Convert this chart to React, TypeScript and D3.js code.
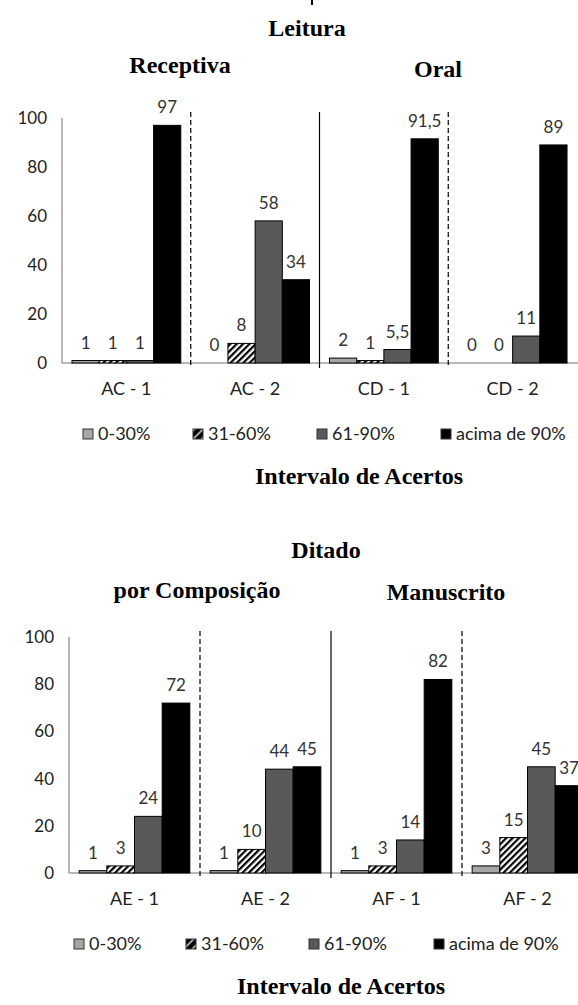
import React from 'react';
import * as d3 from 'd3';

// series (legend order)
const seriesNames = ['0-30%', '31-60%', '61-90%', 'acima de 90%'];
const yTicks = [0, 20, 40, 60, 80, 100];

// Leitura
const leituraCats = ['AC - 1', 'AC - 2', 'CD - 1', 'CD - 2'];
const leitura0a30 = [1, 0, 2, 0];
const leitura31a60 = [1, 8, 1, 0];
const leitura61a90 = [1, 58, 5.5, 11];
const leituraAcima90 = [97, 34, 91.5, 89];

// Ditado
const ditadoCats = ['AE - 1', 'AE - 2', 'AF - 1', 'AF - 2'];
const ditado0a30 = [1, 1, 1, 3];
const ditado31a60 = [3, 10, 3, 15];
const ditado61a90 = [24, 44, 14, 45];
const ditadoAcima90 = [72, 45, 82, 37];

const fills = ['#a6a6a6', 'url(#hatch)', '#595959', '#000000'];
const legendFills = ['#a6a6a6', 'url(#hatchLegend)', '#595959', '#000000'];
const sans = 'Lato, sans-serif';
const serif = '"Liberation Serif", "Times New Roman", serif';

const fmt = (v: number) => String(v).replace('.', ',');

function Panel({ cats, values, x0, x1, y0, y100, legendX, titleX }: any) {
  const x = d3.scaleBand().domain(cats).range([x0, x1]).paddingInner(0.155).paddingOuter(0.0775);
  const inner = d3.scaleBand().domain(seriesNames).range([0, x.bandwidth()]);
  const y = d3.scaleLinear().domain([0, 100]).range([y0, y100]);
  const step = x.step();
  // separators between groups: dashed, solid, dashed
  const seps = cats.slice(1).map((c: string, i: number) => ({
    x: (x(c) as number) - (step - x.bandwidth()) / 2,
    dashed: i !== 1,
  }));
  return (
    <g>
      <line x1={x0} x2={x0} y1={y(100)} y2={y0} stroke="#a0a0a0" strokeWidth={1.5} />
      <line x1={x0} x2={600} y1={y0} y2={y0} stroke="#a0a0a0" strokeWidth={1.5} />
      {yTicks.map((t) => (
        <text key={t} x={x0 - 15} y={y(t)} dy="0.35em" textAnchor="end" fontFamily={sans} fontSize={17} fill="#222">
          {t}
        </text>
      ))}
      {seps.map((s: any, i: number) => (
        <line key={i} x1={s.x} x2={s.x} y1={y(100) - 6} y2={y0 + 5} stroke="#000" strokeWidth={1.2}
          strokeDasharray={s.dashed ? '5,3' : undefined} />
      ))}
      {cats.map((c: string, ci: number) => (
        <g key={c}>
          {seriesNames.map((s, si) => {
            const v = values[si][ci];
            const bx = (x(c) as number) + (inner(s) as number);
            return (
              <g key={s}>
                <rect x={bx} y={y(v)} width={inner.bandwidth()} height={y0 - y(v)} fill={fills[si]}
                  stroke="#000" strokeWidth={1} />
                <text x={bx + inner.bandwidth() / 2} y={y(v) - 12} textAnchor="middle" fontFamily={sans}
                  fontSize={17} fill="#333">{fmt(v)}</text>
              </g>
            );
          })}
          <text x={(x(c) as number) + x.bandwidth() / 2} y={y0 + 26} dy="0.35em" textAnchor="middle"
            fontFamily={sans} fontSize={18} fill="#222">{c}</text>
        </g>
      ))}
      {seriesNames.map((s, i) => (
        <g key={s}>
          <rect x={legendX[i]} y={y0 + 66} width={10} height={10} fill={legendFills[i]} stroke="#333" strokeWidth={1} />
          <text x={legendX[i] + 15} y={y0 + 71} dy="0.35em" fontFamily={sans} fontSize={18} fill="#222">{s}</text>
        </g>
      ))}
      <text x={titleX} y={y0 + 121} textAnchor="middle" fontFamily={serif} fontWeight="bold" fontSize={24} fill="#000">
        Intervalo de Acertos
      </text>
    </g>
  );
}

export default function App() {
  return (
    <svg width={578} height={1005} style={{ position: 'absolute', left: 0, top: 0, display: 'block', background: '#fff' }}>
      <defs>
        <pattern id="hatch" width={4.5} height={4.5} patternUnits="userSpaceOnUse" patternTransform="rotate(45)">
          <rect width={4.5} height={4.5} fill="#fff" />
          <line x1={1.1} y1={0} x2={1.1} y2={4.5} stroke="#000" strokeWidth={2.2} />
        </pattern>
        <pattern id="hatchLegend" width={6} height={6} patternUnits="userSpaceOnUse" patternTransform="rotate(45)">
          <rect width={6} height={6} fill="#000" />
          <line x1={3} y1={0} x2={3} y2={6} stroke="#fff" strokeWidth={1.3} />
        </pattern>
      </defs>
      <rect width={578} height={1005} fill="#fff" />
      <line x1={312} x2={312} y1={0} y2={5} stroke="#000" strokeWidth={2} />
      <g fontFamily={serif} fontWeight="bold" fontSize={24} fill="#000" textAnchor="middle">
        <text x={307} y={36}>Leitura</text>
        <text x={180} y={73}>Receptiva</text>
        <text x={438} y={77}>Oral</text>
        <text x={326} y={558}>Ditado</text>
        <text x={197} y={598}>por Composição</text>
        <text x={446} y={600}>Manuscrito</text>
      </g>
      <Panel cats={leituraCats} values={[leitura0a30, leitura31a60, leitura61a90, leituraAcima90]}
        x0={62} x1={577} y0={363} y100={118} legendX={[83, 193, 317, 441]} titleX={359} />
      <Panel cats={ditadoCats} values={[ditado0a30, ditado31a60, ditado61a90, ditadoAcima90]}
        x0={69} x1={593} y0={873} y100={637} legendX={[74, 186, 309, 434]} titleX={341} />
    </svg>
  );
}
